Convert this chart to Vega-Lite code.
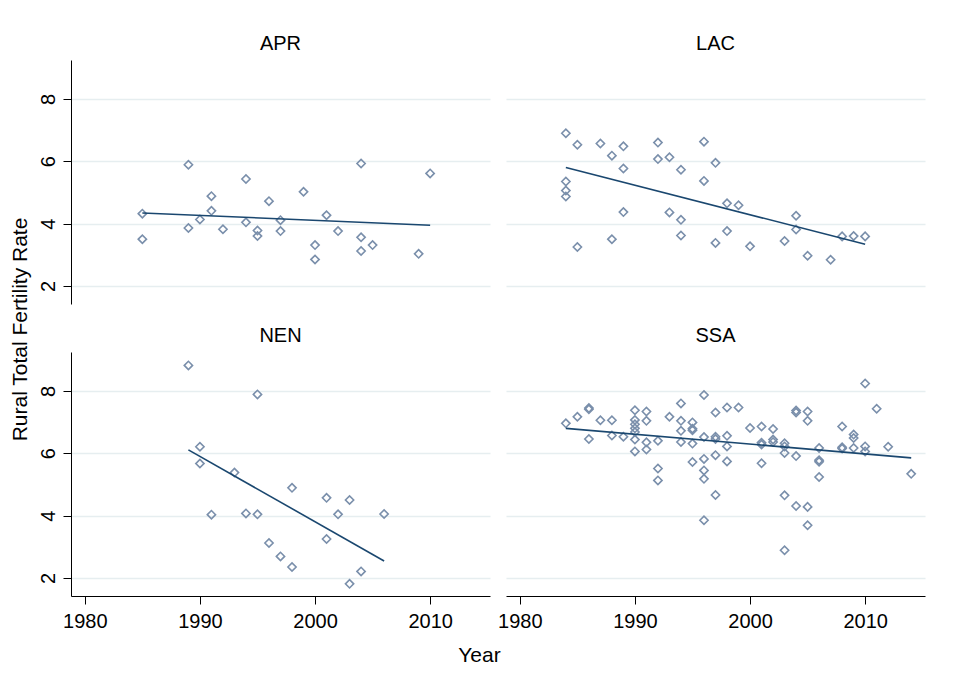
{
  "$schema": "https://vega.github.io/schema/vega-lite/v6.json",
  "description": "Rural total fertility rate by year, one panel per region, with linear fit.",
  "background": "white",
  "padding": {"left": 9, "top": 34, "right": 5, "bottom": 5},
  "bounds": "flush",
  "columns": 2,
  "spacing": {"row": 48, "column": 16},
  "data": {
    "values": [
      {"region": "APR", "year": 1985, "tfr": 4.32},
      {"region": "APR", "year": 1985, "tfr": 3.5},
      {"region": "APR", "year": 1989, "tfr": 5.89},
      {"region": "APR", "year": 1989, "tfr": 3.86},
      {"region": "APR", "year": 1990, "tfr": 4.13},
      {"region": "APR", "year": 1991, "tfr": 4.88},
      {"region": "APR", "year": 1991, "tfr": 4.41},
      {"region": "APR", "year": 1992, "tfr": 3.82},
      {"region": "APR", "year": 1994, "tfr": 5.43},
      {"region": "APR", "year": 1994, "tfr": 4.04},
      {"region": "APR", "year": 1995, "tfr": 3.78},
      {"region": "APR", "year": 1995, "tfr": 3.6},
      {"region": "APR", "year": 1996, "tfr": 4.72},
      {"region": "APR", "year": 1997, "tfr": 4.11},
      {"region": "APR", "year": 1997, "tfr": 3.76},
      {"region": "APR", "year": 1999, "tfr": 5.02},
      {"region": "APR", "year": 2000, "tfr": 3.31},
      {"region": "APR", "year": 2000, "tfr": 2.85},
      {"region": "APR", "year": 2001, "tfr": 4.27},
      {"region": "APR", "year": 2002, "tfr": 3.76},
      {"region": "APR", "year": 2004, "tfr": 5.93},
      {"region": "APR", "year": 2004, "tfr": 3.56},
      {"region": "APR", "year": 2004, "tfr": 3.12},
      {"region": "APR", "year": 2005, "tfr": 3.31},
      {"region": "APR", "year": 2009, "tfr": 3.03},
      {"region": "APR", "year": 2010, "tfr": 5.61},
      {"region": "LAC", "year": 1984, "tfr": 6.9},
      {"region": "LAC", "year": 1984, "tfr": 5.35},
      {"region": "LAC", "year": 1984, "tfr": 5.06},
      {"region": "LAC", "year": 1984, "tfr": 4.87},
      {"region": "LAC", "year": 1985, "tfr": 6.53},
      {"region": "LAC", "year": 1985, "tfr": 3.25},
      {"region": "LAC", "year": 1987, "tfr": 6.57},
      {"region": "LAC", "year": 1988, "tfr": 6.18},
      {"region": "LAC", "year": 1988, "tfr": 3.5},
      {"region": "LAC", "year": 1989, "tfr": 6.48},
      {"region": "LAC", "year": 1989, "tfr": 5.77},
      {"region": "LAC", "year": 1989, "tfr": 4.37},
      {"region": "LAC", "year": 1992, "tfr": 6.6},
      {"region": "LAC", "year": 1992, "tfr": 6.07},
      {"region": "LAC", "year": 1993, "tfr": 6.13},
      {"region": "LAC", "year": 1993, "tfr": 4.36},
      {"region": "LAC", "year": 1994, "tfr": 5.73},
      {"region": "LAC", "year": 1994, "tfr": 4.12},
      {"region": "LAC", "year": 1994, "tfr": 3.62},
      {"region": "LAC", "year": 1996, "tfr": 6.63},
      {"region": "LAC", "year": 1996, "tfr": 5.37},
      {"region": "LAC", "year": 1997, "tfr": 5.95},
      {"region": "LAC", "year": 1997, "tfr": 3.38},
      {"region": "LAC", "year": 1998, "tfr": 4.65},
      {"region": "LAC", "year": 1998, "tfr": 3.76},
      {"region": "LAC", "year": 1999, "tfr": 4.59},
      {"region": "LAC", "year": 2000, "tfr": 3.27},
      {"region": "LAC", "year": 2003, "tfr": 3.44},
      {"region": "LAC", "year": 2004, "tfr": 4.25},
      {"region": "LAC", "year": 2004, "tfr": 3.81},
      {"region": "LAC", "year": 2005, "tfr": 2.97},
      {"region": "LAC", "year": 2007, "tfr": 2.84},
      {"region": "LAC", "year": 2008, "tfr": 3.59},
      {"region": "LAC", "year": 2009, "tfr": 3.6},
      {"region": "LAC", "year": 2010, "tfr": 3.59},
      {"region": "NEN", "year": 1989, "tfr": 8.82},
      {"region": "NEN", "year": 1995, "tfr": 7.89},
      {"region": "NEN", "year": 1990, "tfr": 6.21},
      {"region": "NEN", "year": 1990, "tfr": 5.67},
      {"region": "NEN", "year": 1993, "tfr": 5.38},
      {"region": "NEN", "year": 1991, "tfr": 4.03},
      {"region": "NEN", "year": 1994, "tfr": 4.07},
      {"region": "NEN", "year": 1995, "tfr": 4.04},
      {"region": "NEN", "year": 1998, "tfr": 4.89},
      {"region": "NEN", "year": 2001, "tfr": 4.57},
      {"region": "NEN", "year": 2003, "tfr": 4.5},
      {"region": "NEN", "year": 2002, "tfr": 4.04},
      {"region": "NEN", "year": 2006, "tfr": 4.05},
      {"region": "NEN", "year": 1996, "tfr": 3.12},
      {"region": "NEN", "year": 1997, "tfr": 2.69},
      {"region": "NEN", "year": 1998, "tfr": 2.35},
      {"region": "NEN", "year": 2001, "tfr": 3.25},
      {"region": "NEN", "year": 2004, "tfr": 2.21},
      {"region": "NEN", "year": 2003, "tfr": 1.81},
      {"region": "SSA", "year": 1984, "tfr": 6.96},
      {"region": "SSA", "year": 1985, "tfr": 7.17},
      {"region": "SSA", "year": 1986, "tfr": 7.45},
      {"region": "SSA", "year": 1986, "tfr": 7.41},
      {"region": "SSA", "year": 1986, "tfr": 6.46},
      {"region": "SSA", "year": 1987, "tfr": 7.06},
      {"region": "SSA", "year": 1988, "tfr": 7.06},
      {"region": "SSA", "year": 1988, "tfr": 6.57},
      {"region": "SSA", "year": 1989, "tfr": 6.53},
      {"region": "SSA", "year": 1990, "tfr": 7.38},
      {"region": "SSA", "year": 1990, "tfr": 7.07},
      {"region": "SSA", "year": 1990, "tfr": 6.93},
      {"region": "SSA", "year": 1990, "tfr": 6.8},
      {"region": "SSA", "year": 1990, "tfr": 6.68},
      {"region": "SSA", "year": 1990, "tfr": 6.44},
      {"region": "SSA", "year": 1990, "tfr": 6.06},
      {"region": "SSA", "year": 1991, "tfr": 7.34},
      {"region": "SSA", "year": 1991, "tfr": 7.04},
      {"region": "SSA", "year": 1991, "tfr": 6.35},
      {"region": "SSA", "year": 1991, "tfr": 6.12},
      {"region": "SSA", "year": 1992, "tfr": 6.4},
      {"region": "SSA", "year": 1992, "tfr": 5.51},
      {"region": "SSA", "year": 1992, "tfr": 5.13},
      {"region": "SSA", "year": 1993, "tfr": 7.17},
      {"region": "SSA", "year": 1994, "tfr": 7.6},
      {"region": "SSA", "year": 1994, "tfr": 7.04},
      {"region": "SSA", "year": 1994, "tfr": 6.72},
      {"region": "SSA", "year": 1994, "tfr": 6.36},
      {"region": "SSA", "year": 1995, "tfr": 6.99},
      {"region": "SSA", "year": 1995, "tfr": 6.79},
      {"region": "SSA", "year": 1995, "tfr": 6.74},
      {"region": "SSA", "year": 1995, "tfr": 6.31},
      {"region": "SSA", "year": 1995, "tfr": 5.72},
      {"region": "SSA", "year": 1996, "tfr": 7.87},
      {"region": "SSA", "year": 1996, "tfr": 6.52},
      {"region": "SSA", "year": 1996, "tfr": 5.82},
      {"region": "SSA", "year": 1996, "tfr": 5.45},
      {"region": "SSA", "year": 1996, "tfr": 5.18},
      {"region": "SSA", "year": 1996, "tfr": 3.85},
      {"region": "SSA", "year": 1997, "tfr": 7.31},
      {"region": "SSA", "year": 1997, "tfr": 6.53},
      {"region": "SSA", "year": 1997, "tfr": 6.46},
      {"region": "SSA", "year": 1997, "tfr": 5.94},
      {"region": "SSA", "year": 1997, "tfr": 4.66},
      {"region": "SSA", "year": 1998, "tfr": 7.47},
      {"region": "SSA", "year": 1998, "tfr": 6.56},
      {"region": "SSA", "year": 1998, "tfr": 6.22},
      {"region": "SSA", "year": 1998, "tfr": 5.74},
      {"region": "SSA", "year": 1999, "tfr": 7.47},
      {"region": "SSA", "year": 2000, "tfr": 6.81},
      {"region": "SSA", "year": 2001, "tfr": 6.86},
      {"region": "SSA", "year": 2001, "tfr": 6.34},
      {"region": "SSA", "year": 2001, "tfr": 6.28},
      {"region": "SSA", "year": 2001, "tfr": 5.68},
      {"region": "SSA", "year": 2002, "tfr": 6.78},
      {"region": "SSA", "year": 2002, "tfr": 6.44},
      {"region": "SSA", "year": 2002, "tfr": 6.36},
      {"region": "SSA", "year": 2003, "tfr": 6.32},
      {"region": "SSA", "year": 2003, "tfr": 6.22},
      {"region": "SSA", "year": 2003, "tfr": 6.01},
      {"region": "SSA", "year": 2003, "tfr": 4.65},
      {"region": "SSA", "year": 2003, "tfr": 2.89},
      {"region": "SSA", "year": 2004, "tfr": 7.37},
      {"region": "SSA", "year": 2004, "tfr": 7.31},
      {"region": "SSA", "year": 2004, "tfr": 5.91},
      {"region": "SSA", "year": 2004, "tfr": 4.31},
      {"region": "SSA", "year": 2005, "tfr": 7.34},
      {"region": "SSA", "year": 2005, "tfr": 7.04},
      {"region": "SSA", "year": 2005, "tfr": 4.28},
      {"region": "SSA", "year": 2005, "tfr": 3.69},
      {"region": "SSA", "year": 2006, "tfr": 6.17},
      {"region": "SSA", "year": 2006, "tfr": 5.78},
      {"region": "SSA", "year": 2006, "tfr": 5.73},
      {"region": "SSA", "year": 2006, "tfr": 5.24},
      {"region": "SSA", "year": 2008, "tfr": 6.86},
      {"region": "SSA", "year": 2008, "tfr": 6.19},
      {"region": "SSA", "year": 2008, "tfr": 6.15},
      {"region": "SSA", "year": 2009, "tfr": 6.6},
      {"region": "SSA", "year": 2009, "tfr": 6.49},
      {"region": "SSA", "year": 2009, "tfr": 6.17},
      {"region": "SSA", "year": 2010, "tfr": 8.24},
      {"region": "SSA", "year": 2010, "tfr": 6.22},
      {"region": "SSA", "year": 2010, "tfr": 6.06},
      {"region": "SSA", "year": 2011, "tfr": 7.43},
      {"region": "SSA", "year": 2012, "tfr": 6.21},
      {"region": "SSA", "year": 2014, "tfr": 5.34}
    ]
  },
  "concat": [
    {
      "title": "APR",
      "width": 419,
      "height": 244,
      "transform": [{"filter": "datum.region === 'APR'"}],
      "layer": [
        {
          "mark": {"type": "point", "shape": "diamond", "filled": false, "size": 68, "strokeWidth": 1.6, "color": "#7a8fab", "opacity": 1},
          "encoding": {
            "x": {"field": "year", "type": "quantitative", "scale": {"domain": [1978.8, 2015.2], "nice": false, "zero": false}, "axis": null},
            "y": {
              "field": "tfr", "type": "quantitative",
              "scale": {"domain": [1.42, 9.25], "nice": false, "zero": false},
              "axis": {"values": [2, 4, 6, 8], "labelAngle": -90, "grid": true, "title": "Rural Total Fertility Rate", "titleY": 269, "titlePadding": 8}
            }
          }
        },
        {
          "transform": [{"regression": "tfr", "on": "year"}],
          "mark": {"type": "line", "color": "#1a476f", "strokeWidth": 1.6},
          "encoding": {"x": {"field": "year", "type": "quantitative"}, "y": {"field": "tfr", "type": "quantitative"}}
        }
      ]
    },
    {
      "title": "LAC",
      "width": 419,
      "height": 244,
      "transform": [{"filter": "datum.region === 'LAC'"}],
      "layer": [
        {
          "mark": {"type": "point", "shape": "diamond", "filled": false, "size": 68, "strokeWidth": 1.6, "color": "#7a8fab", "opacity": 1},
          "encoding": {
            "x": {"field": "year", "type": "quantitative", "scale": {"domain": [1978.8, 2015.2], "nice": false, "zero": false}, "axis": null},
            "y": {
              "field": "tfr", "type": "quantitative",
              "scale": {"domain": [1.42, 9.25], "nice": false, "zero": false},
              "axis": {"values": [2, 4, 6, 8], "grid": true, "labels": false, "ticks": false, "domain": false, "title": null}
            }
          }
        },
        {
          "transform": [{"regression": "tfr", "on": "year"}],
          "mark": {"type": "line", "color": "#1a476f", "strokeWidth": 1.6},
          "encoding": {"x": {"field": "year", "type": "quantitative"}, "y": {"field": "tfr", "type": "quantitative"}}
        }
      ]
    },
    {
      "title": "NEN",
      "width": 419,
      "height": 244,
      "transform": [{"filter": "datum.region === 'NEN'"}],
      "layer": [
        {
          "mark": {"type": "point", "shape": "diamond", "filled": false, "size": 68, "strokeWidth": 1.6, "color": "#7a8fab", "opacity": 1},
          "encoding": {
            "x": {
              "field": "year", "type": "quantitative",
              "scale": {"domain": [1978.8, 2015.2], "nice": false, "zero": false},
              "axis": {"values": [1980, 1990, 2000, 2010], "format": "d", "grid": false, "title": "Year", "titleX": 408, "titlePadding": 13, "labelPadding": 7}
            },
            "y": {
              "field": "tfr", "type": "quantitative",
              "scale": {"domain": [1.42, 9.25], "nice": false, "zero": false},
              "axis": {"values": [2, 4, 6, 8], "labelAngle": -90, "grid": true, "title": null}
            }
          }
        },
        {
          "transform": [{"regression": "tfr", "on": "year"}],
          "mark": {"type": "line", "color": "#1a476f", "strokeWidth": 1.6},
          "encoding": {"x": {"field": "year", "type": "quantitative"}, "y": {"field": "tfr", "type": "quantitative"}}
        }
      ]
    },
    {
      "title": "SSA",
      "width": 419,
      "height": 244,
      "transform": [{"filter": "datum.region === 'SSA'"}],
      "layer": [
        {
          "mark": {"type": "point", "shape": "diamond", "filled": false, "size": 68, "strokeWidth": 1.6, "color": "#7a8fab", "opacity": 1},
          "encoding": {
            "x": {
              "field": "year", "type": "quantitative",
              "scale": {"domain": [1978.8, 2015.2], "nice": false, "zero": false},
              "axis": {"values": [1980, 1990, 2000, 2010], "format": "d", "grid": false, "title": null, "labelPadding": 7}
            },
            "y": {
              "field": "tfr", "type": "quantitative",
              "scale": {"domain": [1.42, 9.25], "nice": false, "zero": false},
              "axis": {"values": [2, 4, 6, 8], "grid": true, "labels": false, "ticks": false, "domain": false, "title": null}
            }
          }
        },
        {
          "transform": [{"regression": "tfr", "on": "year"}],
          "mark": {"type": "line", "color": "#1a476f", "strokeWidth": 1.6},
          "encoding": {"x": {"field": "year", "type": "quantitative"}, "y": {"field": "tfr", "type": "quantitative"}}
        }
      ]
    }
  ],
  "config": {
    "view": {"stroke": null},
    "font": "Liberation Sans",
    "title": {"font": "Liberation Sans", "fontSize": 20, "fontWeight": "normal", "color": "black", "anchor": "middle", "offset": 6},
    "axis": {
      "labelFont": "Liberation Sans",
      "titleFont": "Liberation Sans",
      "labelFontSize": 20,
      "titleFontSize": 21,
      "titleFontWeight": "normal",
      "labelColor": "black",
      "titleColor": "black",
      "domainColor": "black",
      "tickColor": "black",
      "tickSize": 8,
      "labelPadding": 5,
      "gridColor": "#e6eef0",
      "gridWidth": 1.3
    }
  }
}
